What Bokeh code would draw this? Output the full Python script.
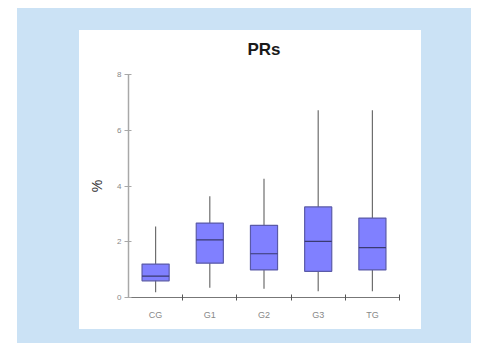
from bokeh.plotting import figure
from bokeh.layouts import row, column
from bokeh.models import Spacer, Range1d, FixedTicker, LinearAxis, Title
from bokeh.embed import file_html
from bokeh.resources import INLINE

categories = ["CG", "G1", "G2", "G3", "TG"]
lower = [0.19, 0.35, 0.31, 0.22, 0.22]
q1 = [0.60, 1.23, 0.99, 0.94, 0.99]
median = [0.77, 2.07, 1.57, 2.01, 1.79]
q3 = [1.20, 2.67, 2.59, 3.25, 2.85]
upper = [2.55, 3.63, 4.26, 6.72, 6.72]
y_ticks = [0, 2, 4, 6, 8]

BLUE = "#cbe2f5"
FONT = "Liberation Sans"
BOX_W = 0.5

pos = [i + 0.5 for i in range(len(categories))]

p = figure(width=342, height=299, output_backend="svg", toolbar_location=None,
           x_range=Range1d(0, len(categories)), y_range=Range1d(0, 8),
           x_axis_type=None, y_axis_type=None,
           min_border_left=49, min_border_right=22, min_border_top=44, min_border_bottom=32)
p.outline_line_color = None
p.background_fill_color = "white"
p.border_fill_color = "white"

p.title.text = "PRs"
p.title.align = "center"
p.title.text_font = FONT
p.title.text_font_size = "17px"
p.title.text_font_style = "bold"
p.title.text_color = "#1a1a1a"

# blank gap between title and plot area
p.add_layout(Title(text=" ", text_font_size="8px", standoff=0), "above")

# y axis
yax = LinearAxis(ticker=FixedTicker(ticks=y_ticks))
yax.axis_label = "%"
yax.axis_label_text_font = FONT
yax.axis_label_text_font_size = "14px"
yax.axis_label_text_font_style = "normal"
yax.axis_label_text_color = "#333333"
yax.axis_label_standoff = 9
yax.major_label_text_font = FONT
yax.major_label_text_font_size = "8px"
yax.major_label_text_color = "#888888"
yax.major_label_standoff = 3
yax.major_tick_out = 4
yax.major_tick_in = 3
yax.minor_tick_line_color = None
yax.axis_line_color = "#a8a8a8"
yax.axis_line_width = 1.5
yax.major_tick_line_color = "#a8a8a8"
p.add_layout(yax, "left")

# x axis: labels at category centres, tick marks at boundaries
xax = LinearAxis(ticker=FixedTicker(ticks=pos, minor_ticks=[1, 2, 3, 4, 5]))
xax.major_label_overrides = {pv: c for pv, c in zip(pos, categories)}
xax.major_label_text_font = FONT
xax.major_label_text_font_size = "9px"
xax.major_label_text_color = "#888888"
xax.major_label_standoff = 9
xax.major_tick_line_color = None
xax.major_tick_out = 3
xax.major_tick_in = 0
xax.minor_tick_out = 3
xax.minor_tick_in = 3
xax.minor_tick_line_color = "#555555"
xax.axis_line_color = "#777777"
xax.axis_line_width = 1.2
p.add_layout(xax, "below")

p.segment(x0=pos, y0=lower, x1=pos, y1=upper, line_color="#6e6e6e", line_width=1.2)
p.vbar(x=pos, width=BOX_W, bottom=q1, top=q3, fill_color="#8080ff",
       line_color="#5a5aa8", line_width=1.2)
p.segment(x0=[x - BOX_W / 2 for x in pos], y0=median, x1=[x + BOX_W / 2 for x in pos],
          y1=median, line_color="#3a3a70", line_width=1.2)


def sp(w, h, color=BLUE):
    s = {"flex-shrink": "0"}
    if color:
        s["background-color"] = color
    return Spacer(width=w, height=h, styles=s)


mid = row(sp(62, 299), p, sp(50, 299))
card = column(sp(454, 22), mid, sp(454, 14))
inner = column(sp(454, 8, None), card)
layout = row(sp(17, 343, None), inner)

open("out.html", "w").write(file_html(layout, INLINE))
